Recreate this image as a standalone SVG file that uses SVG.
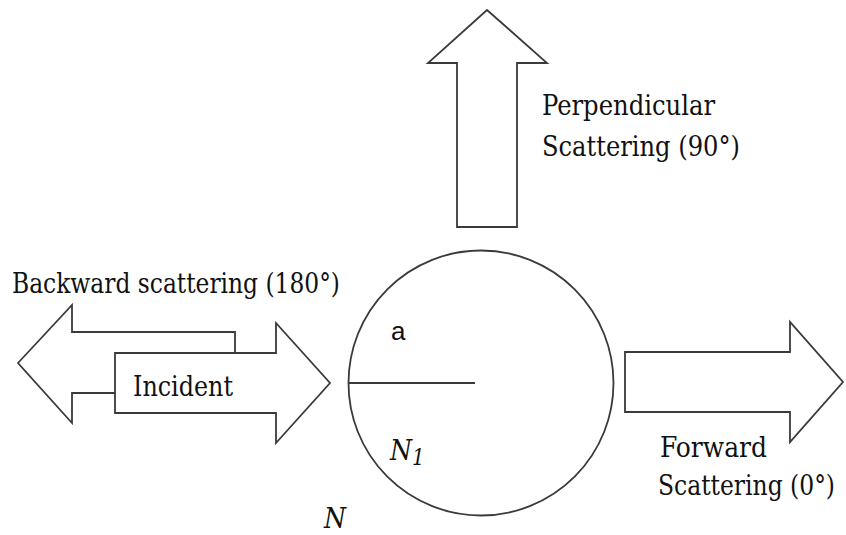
<svg xmlns="http://www.w3.org/2000/svg" width="846" height="535" viewBox="0 0 846 535">
<style>
.shape{fill:#fff;stroke:#3a3a3a;stroke-width:1.8;stroke-linejoin:miter}
.line{fill:none;stroke:#3a3a3a;stroke-width:1.8}
.lbl{font-family:'DejaVu Serif','Liberation Serif',serif;font-stretch:condensed;font-size:28px;fill:#111}
.ital{font-family:'DejaVu Serif','Liberation Serif',serif;font-stretch:condensed;font-style:italic;font-size:28px;fill:#111}
.sans{font-family:'Liberation Sans',Arial,sans-serif;font-size:26px;fill:#111}
</style>
<rect width="846" height="535" fill="#fff"/>
<g id="backward">
<polygon class="shape" points="18,363 72,305 72,332 235,332 235,393 72,393 72,423"/>
<text class="lbl" x="12" y="293" textLength="328" lengthAdjust="spacingAndGlyphs">Backward scattering (180°)</text>
</g>
<g id="incident">
<polygon class="shape" points="115,353 276,353 276,323 330,383 276,443 276,413 115,413"/>
<text class="lbl" x="133" y="396" textLength="100" lengthAdjust="spacingAndGlyphs">Incident</text>
</g>
<g id="perpendicular">
<polygon class="shape" points="487,10 547,63 517,63 517,227 457,227 457,63 428,63"/>
<text class="lbl" x="542" y="115" textLength="173" lengthAdjust="spacingAndGlyphs">Perpendicular</text>
<text class="lbl" x="542" y="156" textLength="198" lengthAdjust="spacingAndGlyphs">Scattering (90°)</text>
</g>
<g id="forward">
<polygon class="shape" points="625,352 790,352 790,322 843,382 790,442 790,412 625,412"/>
<text class="lbl" x="660" y="457" textLength="107" lengthAdjust="spacingAndGlyphs">Forward</text>
<text class="lbl" x="658" y="495" textLength="177" lengthAdjust="spacingAndGlyphs">Scattering (0°)</text>
</g>
<g id="particle">
<circle class="shape" cx="481" cy="383" r="132.5"/>
<text class="sans" x="391" y="340">a</text>
<text class="ital" x="390" y="460">N<tspan font-size="22" dy="5">1</tspan></text>
</g>
<g id="medium">
<text class="ital" x="324" y="528">N</text>
</g>
<g id="connectors">
<line class="line" x1="348" y1="383" x2="475" y2="383"/>
</g>
</svg>
